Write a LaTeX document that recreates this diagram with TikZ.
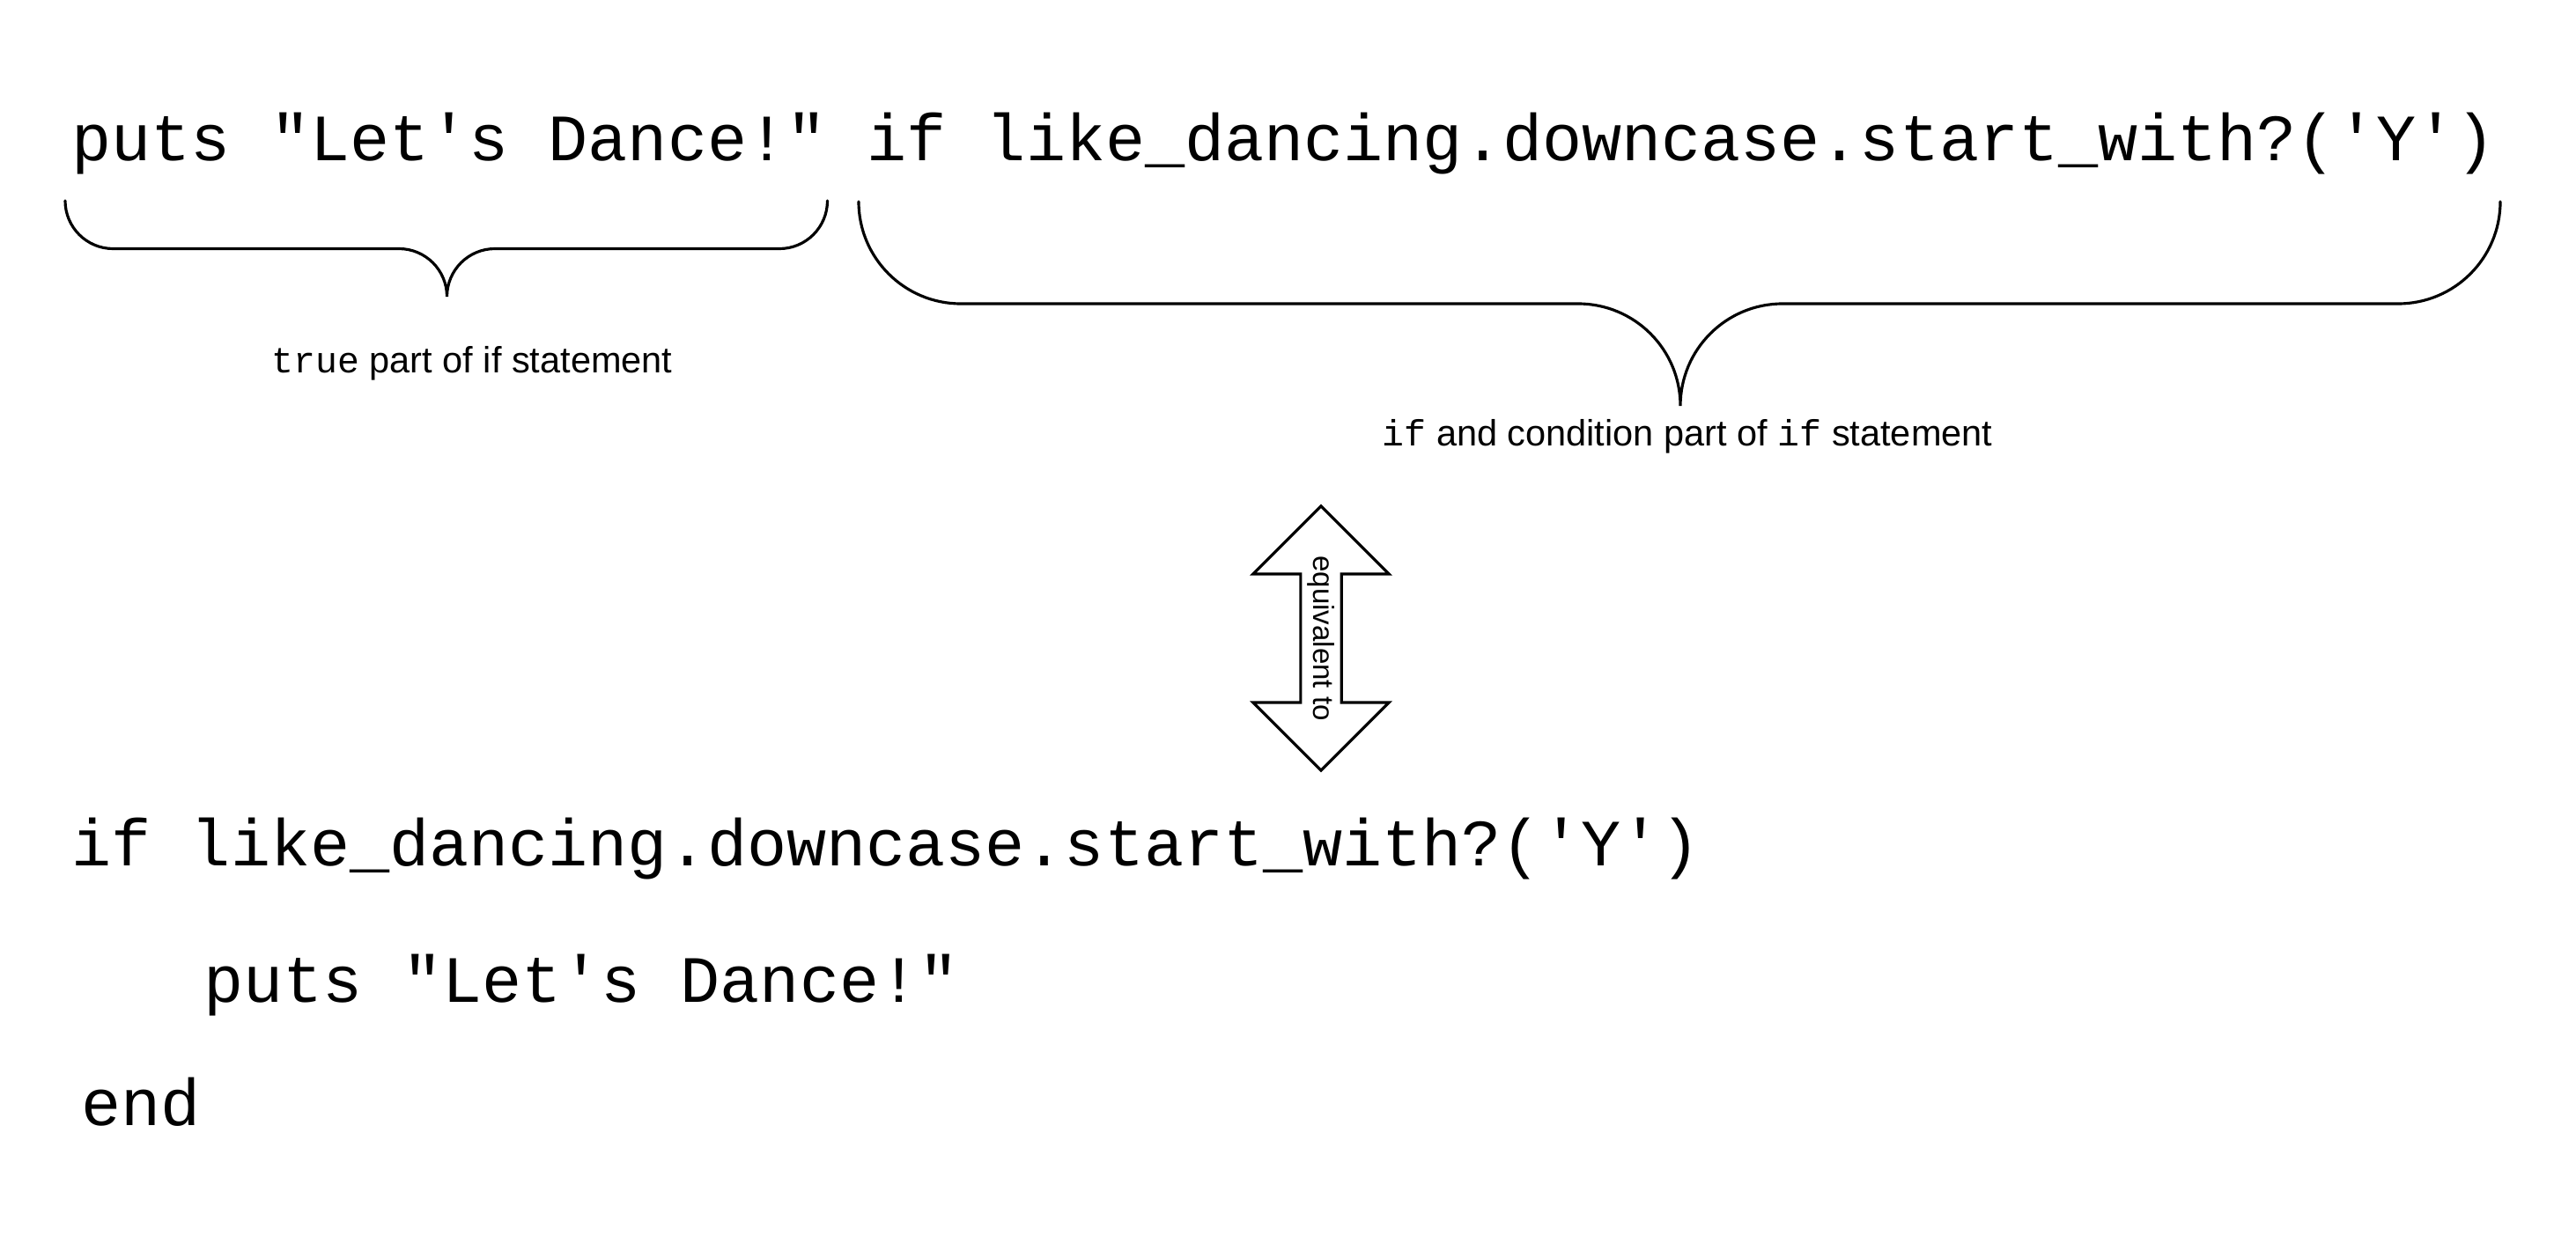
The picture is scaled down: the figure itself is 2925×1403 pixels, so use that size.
\documentclass[tikz,border=0pt]{standalone}
\usepackage{fontspec}
\setmainfont{Liberation Sans}
\setsansfont{Liberation Sans}
\setmonofont{Liberation Mono}
\usetikzlibrary{shapes.arrows}

% straight quotes and underscore for the code lines
\newcommand{\dq}{\symbol{34}}
\newcommand{\sq}{\symbol{39}}
\newcommand{\us}{\symbol{95}}

\begin{document}
\begin{tikzpicture}[x=0.01cm, y=0.01cm,
    code/.style={anchor=base west, inner sep=0pt, font=\ttfamily\fontsize{21.37pt}{25pt}\selectfont},
    note/.style={anchor=base, inner sep=0pt, font=\sffamily\fontsize{11.8pt}{14pt}\selectfont},
    brace/.style={line width=0.9pt, line cap=round}]
    \useasboundingbox (0,0) rectangle (2925,-1403);

    % One-line form
    \node[code] (trueCode) at (81,-182) {puts \dq Let\sq s Dance!\dq};
    \node[code] (condCode) at (984,-182) {if like\us dancing.downcase.start\us with?(\sq Y\sq)};

    % Braces under the two parts
    \draw[brace] (74,-228) arc[start angle=180, end angle=270, radius=54.5]
        -- (453,-282.5) arc[start angle=90, end angle=0, radius=54.5]
        arc[start angle=180, end angle=90, radius=54.5]
        -- (885,-282.5) arc[start angle=270, end angle=360, radius=54.5];
    \draw[brace] (975,-229) arc[start angle=180, end angle=270, radius=116]
        -- (1792,-345) arc[start angle=90, end angle=0, radius=116]
        arc[start angle=180, end angle=90, radius=116]
        -- (2723,-345) arc[start angle=270, end angle=360, radius=116];
    \node[note] (trueLabel) at (536,-423) {\texttt{true} part of if statement};
    \node[note] (condLabel) at (1916,-506) {\texttt{if} and condition part of \texttt{if} statement};

    % Arrow
    \node[double arrow, draw, line width=0.9pt, rotate=-90, inner sep=0pt,
        minimum height=3cm, minimum width=1.54cm, double arrow head extend=0.395cm,
        font=\sffamily\fontsize{9.4pt}{11pt}\selectfont] (equiv) at (1500,-725) {equivalent to};

    % Block form
    \node[code] (ifLine) at (81,-983) {if like\us dancing.downcase.start\us with?(\sq Y\sq)};
    \node[code] (putsLine) at (231,-1138) {puts \dq Let\sq s Dance!\dq};
    \node[code] (endLine) at (92,-1278) {end};
\end{tikzpicture}
\end{document}
